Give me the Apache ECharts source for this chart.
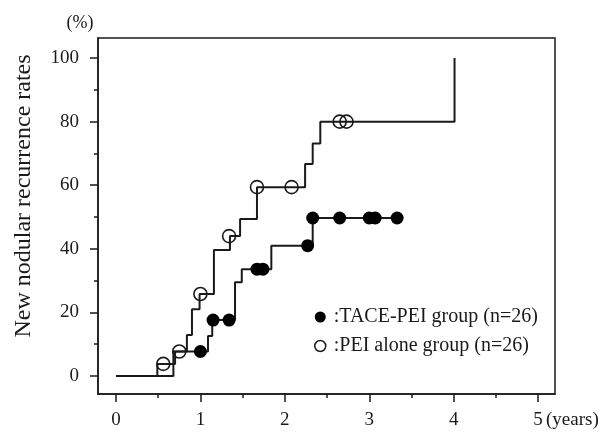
<!DOCTYPE html>
<html>
<head>
<meta charset="utf-8">
<script src="https://cdn.jsdelivr.net/npm/echarts@6/dist/echarts.min.js"></script>
<style>
  html, body { margin: 0; padding: 0; background: #fff; }
  #chart { width: 606px; height: 433px; }
</style>
</head>
<body>
<div id="chart"></div>
<script>
// ---- Data ----
// PEI alone group: Kaplan-Meier step points (time in years, cumulative %)
var peiStepT = [0, 0.49, 0.70, 0.84, 0.90, 0.99, 1.16, 1.35, 1.47, 1.67, 2.24, 2.33, 2.42, 4.01];
var peiStepV = [0, 3.8, 7.7, 12.9, 21.0, 25.8, 39.6, 44.0, 49.4, 59.4, 66.7, 73.1, 80.0, 100];
// PEI alone censored marks
var peiCensT = [0.56, 0.75, 1.00, 1.34, 1.67, 2.08, 2.65, 2.73];
var peiCensV = [3.8, 7.7, 25.8, 44.0, 59.4, 59.4, 80.0, 80.0];

// TACE-PEI group
var tacStepT = [0, 0.68, 1.09, 1.14, 1.41, 1.49, 1.84, 2.33, 3.33];
var tacStepV = [0, 7.7, 12.6, 17.6, 29.5, 33.6, 41.0, 49.7, 49.7];
var tacCensT = [1.00, 1.15, 1.34, 1.67, 1.74, 2.27, 2.33, 2.65, 3.00, 3.07, 3.33];
var tacCensV = [7.7, 17.6, 17.6, 33.6, 33.6, 41.0, 49.7, 49.7, 49.7, 49.7, 49.7];

// Axis ticks / labels
var xMajor = [0, 1, 2, 3, 4, 5];
var xMinor = [0.5, 1.5, 2.5, 3.5, 4.5];
var yMajor = [0, 20, 40, 60, 80, 100];
var yMinor = [10, 30, 50, 70, 90];

var seriesNames = [':TACE-PEI group (n=26)', ':PEI alone group (n=26)'];
var yTitle = 'New nodular recurrence rates';

function pairs(t, v) { return t.map(function (x, i) { return [x, v[i]]; }); }

var FONT = 'Liberation Serif';
var INK = '#1a1a1a';

var chart = echarts.init(document.getElementById('chart'), null, { renderer: 'canvas' });

var xmin = -0.213, xmax = 5.20, ymin = -5.66, ymax = 106.3;

var option = {
  animation: false,
  backgroundColor: '#fff',
  grid: { left: 98, right: 51, top: 38, bottom: 39, show: true, borderColor: INK, borderWidth: 1.5, backgroundColor: 'transparent' },
  xAxis: [
    {
      type: 'value', min: xmin, max: xmax, position: 'bottom',
      axisLine: { show: true, onZero: false, lineStyle: { color: INK, width: 1.5 } },
      axisTick: { show: true, customValues: xMajor, length: 8, lineStyle: { color: INK, width: 1.5 } },
      axisLabel: { customValues: xMajor, margin: 17, fontSize: 19, fontFamily: FONT, color: INK },
      splitLine: { show: false }
    },
    {
      type: 'value', min: xmin, max: xmax, position: 'bottom',
      axisLine: { show: false, onZero: false },
      axisTick: { show: true, customValues: xMinor, length: 4, lineStyle: { color: INK, width: 1.5 } },
      axisLabel: { show: false },
      splitLine: { show: false }
    }
  ],
  yAxis: [
    {
      type: 'value', min: ymin, max: ymax, position: 'left',
      axisLine: { show: true, onZero: false, lineStyle: { color: INK, width: 1.5 } },
      axisTick: { show: true, customValues: yMajor, length: 8, lineStyle: { color: INK, width: 1.5 } },
      axisLabel: { customValues: yMajor, margin: 19, fontSize: 19, fontFamily: FONT, color: INK },
      splitLine: { show: false }
    },
    {
      type: 'value', min: ymin, max: ymax, position: 'left',
      axisLine: { show: false, onZero: false },
      axisTick: { show: true, customValues: yMinor, length: 4, lineStyle: { color: INK, width: 1.5 } },
      axisLabel: { show: false },
      splitLine: { show: false }
    }
  ],
  legend: {
    orient: 'vertical', left: 309, top: 302, itemGap: 9,
    itemWidth: 11, itemHeight: 11,
    textStyle: { fontFamily: FONT, fontSize: 20, color: INK, padding: [0, 0, 0, 3] },
    data: [
      { name: seriesNames[0], icon: 'circle', itemStyle: { color: '#000', opacity: 1, borderWidth: 0 } },
      { name: seriesNames[1], icon: 'circle', itemStyle: { color: '#fff', opacity: 1, borderColor: INK, borderWidth: 1.5 } }
    ]
  },
  series: [
    {
      name: 'TACE-PEI step', type: 'line', step: 'end', symbol: 'none', silent: true,
      data: pairs(tacStepT, tacStepV), lineStyle: { color: INK, width: 2 }, z: 2
    },
    {
      name: 'PEI step', type: 'line', step: 'end', symbol: 'none', silent: true,
      data: pairs(peiStepT, peiStepV), lineStyle: { color: INK, width: 2 }, z: 2
    },
    {
      name: seriesNames[0], type: 'scatter', symbol: 'circle', symbolSize: 13,
      data: pairs(tacCensT, tacCensV), itemStyle: { color: '#000', opacity: 1 }, z: 4
    },
    {
      name: seriesNames[1], type: 'scatter', symbol: 'circle', symbolSize: 13,
      data: pairs(peiCensT, peiCensV),
      itemStyle: { color: 'rgba(255,255,255,0)', opacity: 1, borderColor: INK, borderWidth: 1.6 }, z: 4
    }
  ],
  graphic: [
    { type: 'text', x: 80, y: 23, style: { text: '(%)', font: '18px "Liberation Serif"', fill: INK, textAlign: 'center', textVerticalAlign: 'middle' } },
    { type: 'text', x: 546, y: 420, style: { text: '(years)', font: '19px "Liberation Serif"', fill: INK, textAlign: 'left', textVerticalAlign: 'middle' } },
    { type: 'text', x: 24, y: 196, rotation: Math.PI / 2, style: { text: yTitle, font: '24px "Liberation Serif"', fill: INK, textAlign: 'center', textVerticalAlign: 'middle' } }
  ]
};

chart.setOption(option);
</script>
</body>
</html>
